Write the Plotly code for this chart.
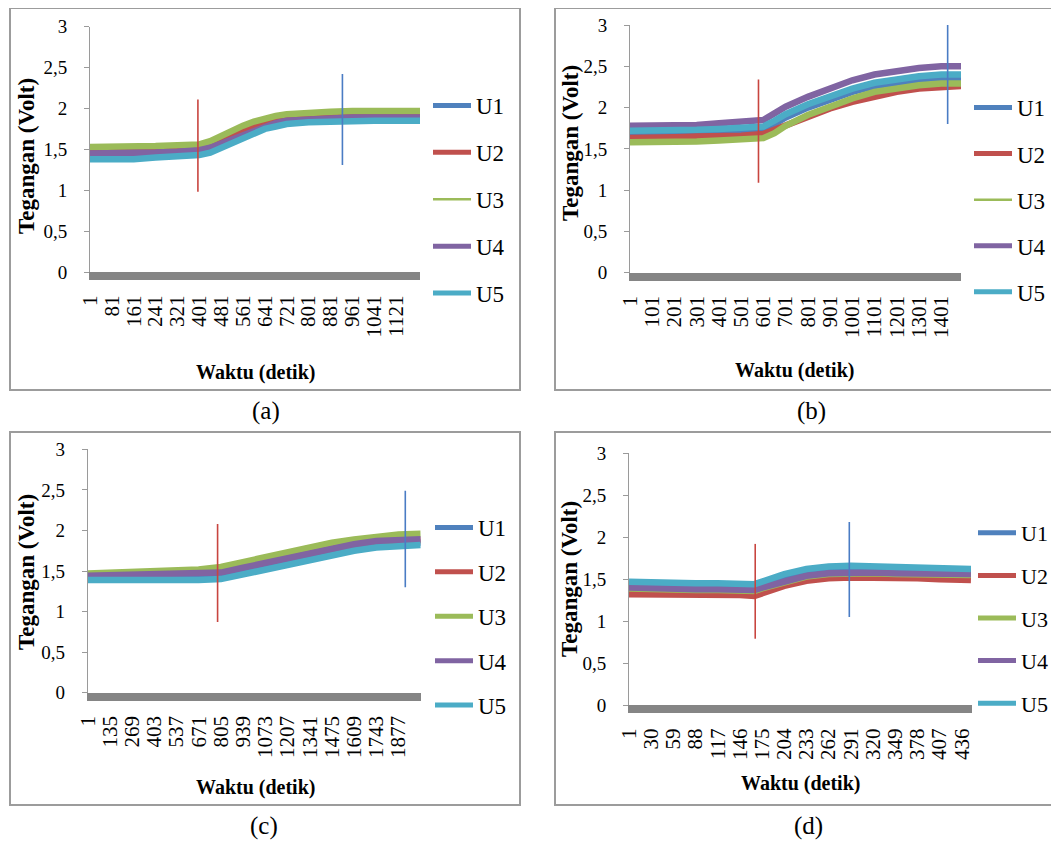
import plotly.graph_objects as go

# ---------------- DATA ----------------
series_names = ["U1", "U2", "U3", "U4", "U5"]
y_tick_vals = [0, 0.5, 1, 1.5, 2, 2.5, 3]
y_tick_text = ["0", "0,5", "1", "1,5", "2", "2,5", "3"]

# Panel (a)
a_x = [1, 81, 161, 241, 321, 401, 441, 481, 521, 561, 601, 641, 681, 721, 801, 881, 961, 1041, 1121, 1209]
a_U1 = [1.42, 1.42, 1.42, 1.43, 1.44, 1.46, 1.49, 1.55, 1.62, 1.68, 1.73, 1.77, 1.80, 1.83, 1.85, 1.86, 1.87, 1.87, 1.87, 1.87]
a_U2 = [1.48, 1.48, 1.48, 1.49, 1.50, 1.51, 1.55, 1.62, 1.69, 1.74, 1.79, 1.83, 1.86, 1.88, 1.90, 1.91, 1.92, 1.92, 1.92, 1.92]
a_U3 = [1.53, 1.53, 1.53, 1.54, 1.55, 1.56, 1.60, 1.67, 1.74, 1.79, 1.84, 1.88, 1.91, 1.93, 1.95, 1.96, 1.97, 1.97, 1.97, 1.97]
a_U4 = [1.45, 1.45, 1.45, 1.46, 1.47, 1.49, 1.52, 1.57, 1.63, 1.69, 1.74, 1.79, 1.82, 1.85, 1.87, 1.88, 1.89, 1.89, 1.89, 1.89]
a_U5 = [1.38, 1.38, 1.38, 1.40, 1.41, 1.43, 1.46, 1.52, 1.59, 1.65, 1.70, 1.75, 1.78, 1.81, 1.83, 1.84, 1.85, 1.85, 1.85, 1.85]
a_ticks = [1, 81, 161, 241, 321, 401, 481, 561, 641, 721, 801, 881, 961, 1041, 1121]
a_mark_x = [396, 925]
a_mark_lo = [0.98, 1.31]
a_mark_hi = [2.11, 2.42]

# Panel (b)
b_x = [1, 101, 201, 301, 401, 501, 601, 651, 701, 801, 901, 1001, 1101, 1201, 1301, 1401, 1490]
b_U1 = [1.70, 1.70, 1.70, 1.70, 1.71, 1.72, 1.74, 1.80, 1.88, 2.00, 2.10, 2.19, 2.26, 2.31, 2.34, 2.36, 2.36]
b_U2 = [1.63, 1.63, 1.64, 1.65, 1.65, 1.66, 1.68, 1.73, 1.80, 1.90, 1.99, 2.07, 2.13, 2.19, 2.23, 2.25, 2.26]
b_U3 = [1.58, 1.58, 1.58, 1.59, 1.60, 1.61, 1.63, 1.69, 1.78, 1.91, 2.02, 2.11, 2.19, 2.24, 2.27, 2.29, 2.29]
b_U4 = [1.78, 1.78, 1.78, 1.79, 1.81, 1.83, 1.85, 1.93, 2.01, 2.13, 2.24, 2.33, 2.40, 2.44, 2.48, 2.50, 2.50]
b_U5 = [1.72, 1.72, 1.72, 1.73, 1.74, 1.75, 1.77, 1.84, 1.92, 2.04, 2.14, 2.23, 2.30, 2.35, 2.38, 2.40, 2.40]
b_ticks = [1, 101, 201, 301, 401, 501, 601, 701, 801, 901, 1001, 1101, 1201, 1301, 1401]
b_mark_x = [579, 1430]
b_mark_lo = [1.09, 1.80]
b_mark_hi = [2.34, 3.00]

# Panel (c)
c_x = [1, 135, 269, 403, 537, 671, 805, 939, 1073, 1207, 1341, 1475, 1609, 1743, 1877, 2011]
c_U1 = [1.41, 1.41, 1.41, 1.42, 1.42, 1.42, 1.43, 1.49, 1.55, 1.61, 1.67, 1.73, 1.78, 1.82, 1.84, 1.85]
c_U2 = [1.45, 1.46, 1.46, 1.47, 1.48, 1.49, 1.50, 1.55, 1.61, 1.67, 1.73, 1.78, 1.83, 1.87, 1.88, 1.88]
c_U3 = [1.47, 1.48, 1.49, 1.50, 1.51, 1.52, 1.55, 1.61, 1.68, 1.74, 1.79, 1.85, 1.89, 1.92, 1.95, 1.96]
c_U4 = [1.44, 1.45, 1.45, 1.46, 1.46, 1.47, 1.48, 1.54, 1.60, 1.66, 1.72, 1.78, 1.83, 1.87, 1.89, 1.89]
c_U5 = [1.39, 1.39, 1.38, 1.38, 1.38, 1.39, 1.40, 1.46, 1.52, 1.58, 1.64, 1.70, 1.75, 1.79, 1.81, 1.82]
c_ticks = [1, 135, 269, 403, 537, 671, 805, 939, 1073, 1207, 1341, 1475, 1609, 1743, 1877]
c_mark_x = [785, 1918]
c_mark_lo = [0.87, 1.30]
c_mark_hi = [2.08, 2.49]

# Panel (d)
d_x = [1, 30, 59, 88, 117, 146, 165, 175, 204, 233, 262, 291, 320, 349, 378, 407, 436, 448]
d_U1 = [1.43, 1.42, 1.42, 1.41, 1.41, 1.40, 1.40, 1.43, 1.52, 1.58, 1.61, 1.62, 1.62, 1.61, 1.61, 1.60, 1.59, 1.59]
d_U2 = [1.32, 1.32, 1.31, 1.31, 1.31, 1.31, 1.30, 1.33, 1.42, 1.48, 1.51, 1.52, 1.52, 1.52, 1.51, 1.50, 1.50, 1.49]
d_U3 = [1.39, 1.38, 1.38, 1.37, 1.37, 1.36, 1.36, 1.39, 1.47, 1.53, 1.56, 1.57, 1.57, 1.56, 1.56, 1.55, 1.55, 1.55]
d_U4 = [1.40, 1.39, 1.39, 1.38, 1.38, 1.37, 1.37, 1.40, 1.48, 1.54, 1.57, 1.58, 1.58, 1.57, 1.57, 1.56, 1.56, 1.56]
d_U5 = [1.47, 1.46, 1.46, 1.45, 1.45, 1.44, 1.44, 1.47, 1.56, 1.62, 1.65, 1.66, 1.65, 1.65, 1.64, 1.63, 1.62, 1.62]
d_ticks = [1, 30, 59, 88, 117, 146, 175, 204, 233, 262, 291, 320, 349, 378, 407, 436]
d_mark_x = [166, 289]
d_mark_lo = [0.79, 1.05]
d_mark_hi = [1.92, 2.18]

captions = ["(a)", "(b)", "(c)", "(d)"]
x_title = "Waktu (detik)"
y_title = "Tegangan (Volt)"

# ---------------- STYLE ----------------
W, H = 1059, 842
OFF = 8  # page body margin offset compensation
colors = ["#4F81BD", "#C0504D", "#9BBB59", "#8064A2", "#4BACC6"]
mark_colors = ["#C8453F", "#4A7CC4"]
FONT = "Liberation Serif"

def px(x):
    return (x - OFF) / W

def py(y):
    return 1 - (y - OFF) / H

panels = [
    dict(x=a_x, ys=[a_U1, a_U2, a_U3, a_U4, a_U5], ticks=a_ticks, mx=a_mark_x, mlo=a_mark_lo, mhi=a_mark_hi,
         xr=[1, 1209], dom_x=(90, 420), dom_y=(26.7, 272), leg=(428, 84), gap=14, legfs=23, ytitle=(26, 156),
         xtitle=(255, 372), cap=(266, 411), box=(10, 8, 520, 390), legw=[5, 5, 2.5, 5, 5]),
    dict(x=b_x, ys=[b_U1, b_U2, b_U3, b_U4, b_U5], ticks=b_ticks, mx=b_mark_x, mlo=b_mark_lo, mhi=b_mark_hi,
         xr=[1, 1490], dom_x=(630, 961), dom_y=(25, 272.7), leg=(969, 86), gap=13.2, legfs=23, ytitle=(571, 143),
         xtitle=(794, 370), cap=(811, 411), box=(555, 8, 1070, 390), legw=[5, 5, 2.5, 5, 5]),
    dict(x=c_x, ys=[c_U1, c_U2, c_U3, c_U4, c_U5], ticks=c_ticks, mx=c_mark_x, mlo=c_mark_lo, mhi=c_mark_hi,
         xr=[1, 2011], dom_x=(87.7, 420.7), dom_y=(449.3, 692.7), leg=(430, 506), gap=11.5, legfs=23, ytitle=(26, 572),
         xtitle=(255, 787), cap=(264, 826), box=(10, 432, 520, 805), legw=[5, 5, 5, 5, 5]),
    dict(x=d_x, ys=[d_U1, d_U2, d_U3, d_U4, d_U5], ticks=d_ticks, mx=d_mark_x, mlo=d_mark_lo, mhi=d_mark_hi,
         xr=[1, 449], dom_x=(629, 971.7), dom_y=(453.3, 705), leg=(973, 512), gap=11, legfs=22, ytitle=(569, 579),
         xtitle=(800, 783), cap=(808, 826), box=(555, 432, 1070, 805), legw=[5, 5, 5, 5, 5]),
]

fig = go.Figure()
layout = dict(width=W, height=H, margin=dict(l=0, r=0, t=0, b=0, pad=0, autoexpand=False),
              paper_bgcolor="white", plot_bgcolor="rgba(0,0,0,0)", showlegend=True,
              font=dict(family=FONT, color="black"))
shapes = []
annotations = []

for i, p in enumerate(panels):
    n = "" if i == 0 else str(i + 1)
    xa, ya = "x" + n, "y" + n
    leg = "legend" + n
    for k, name in enumerate(series_names):
        fig.add_trace(go.Scatter(x=p["x"], y=p["ys"][k], mode="lines", name=name,
                                 line=dict(color=colors[k], width=6.5), xaxis=xa, yaxis=ya,
                                 showlegend=False, hoverinfo="skip"))
    # legend-only entries
    for k, name in enumerate(series_names):
        fig.add_trace(go.Scatter(x=[None], y=[None], mode="lines", name=name,
                                 line=dict(color=colors[k], width=p["legw"][k]), xaxis=xa, yaxis=ya,
                                 legend=leg, legendgroup=f"{i}{k}", showlegend=True))
    for j in range(len(p["mx"])):
        fig.add_trace(go.Scatter(x=[p["mx"][j], p["mx"][j]], y=[p["mlo"][j], p["mhi"][j]], mode="lines",
                                 line=dict(color=mark_colors[j], width=1.6), xaxis=xa, yaxis=ya,
                                 showlegend=False, hoverinfo="skip"))
    layout["xaxis" + n] = dict(domain=[px(p["dom_x"][0]), px(p["dom_x"][1])], range=p["xr"], anchor=ya,
                               tickvals=p["ticks"], ticktext=[str(t) for t in p["ticks"]], tickangle=-90,
                               tickfont=dict(family=FONT, size=21, color="black"), showgrid=False,
                               zeroline=False, showline=True, linecolor="#858585", linewidth=8,
                               ticks="", ticklabelstandoff=7, automargin=False)
    layout["yaxis" + n] = dict(domain=[py(p["dom_y"][1]), py(p["dom_y"][0])], range=[0, 3], anchor=xa,
                               tickvals=y_tick_vals, ticktext=y_tick_text,
                               tickfont=dict(family=FONT, size=19, color="black"), showgrid=False,
                               zeroline=False, showline=True, linecolor="#9a9a9a", linewidth=1,
                               ticks="outside", ticklen=5, tickcolor="#9a9a9a", ticklabelstandoff=13,
                               automargin=False)
    layout[leg] = dict(x=px(p["leg"][0]), y=py(p["leg"][1]), xanchor="left", yanchor="top",
                       font=dict(family=FONT, size=p["legfs"], color="black"), bgcolor="rgba(0,0,0,0)",
                       traceorder="grouped", tracegroupgap=p["gap"], itemclick=False, itemwidth=38)
    bx0, by0, bx1, by1 = p["box"]
    shapes.append(dict(type="rect", xref="paper", yref="paper", x0=px(bx0), y0=py(by1), x1=px(bx1), y1=py(by0),
                       line=dict(color="#9c9c9c", width=2), fillcolor="rgba(0,0,0,0)", layer="below"))
    annotations.append(dict(text="<b>" + y_title + "</b>", xref="paper", yref="paper",
                            x=px(p["ytitle"][0]), y=py(p["ytitle"][1]), textangle=-90, showarrow=False,
                            font=dict(family=FONT, size=23, color="black"), xanchor="center", yanchor="middle"))
    annotations.append(dict(text="<b>" + x_title + "</b>", xref="paper", yref="paper",
                            x=px(p["xtitle"][0]), y=py(p["xtitle"][1]), showarrow=False,
                            font=dict(family=FONT, size=20, color="black"), xanchor="center", yanchor="middle"))
    annotations.append(dict(text=captions[i], xref="paper", yref="paper",
                            x=px(p["cap"][0]), y=py(p["cap"][1]), showarrow=False,
                            font=dict(family=FONT, size=25, color="black"), xanchor="center", yanchor="middle"))

layout["shapes"] = shapes
layout["annotations"] = annotations
fig.update_layout(**layout)
fig.write_html("out.html")
